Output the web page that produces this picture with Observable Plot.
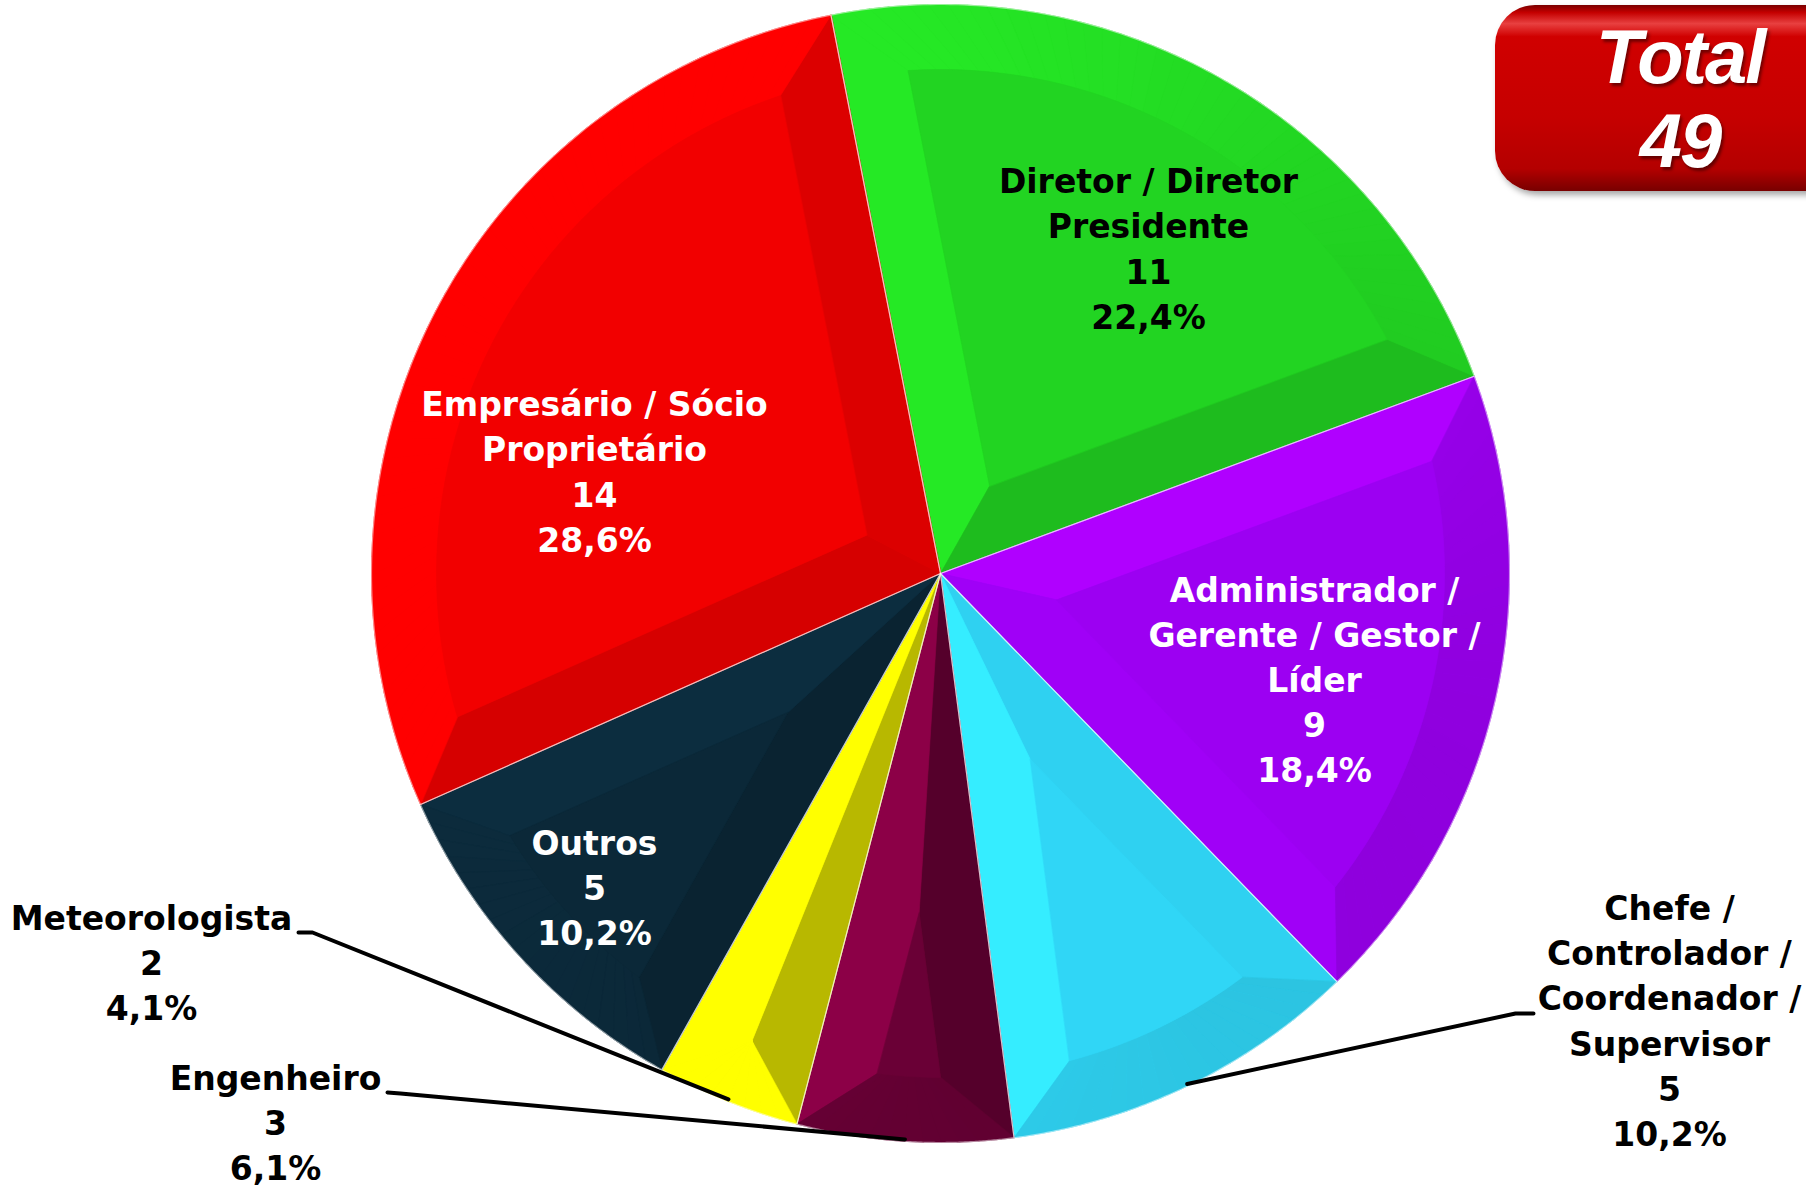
<!DOCTYPE html>
<html><head><meta charset="utf-8">
<script src="https://cdn.jsdelivr.net/npm/d3@7"></script>
<script src="https://cdn.jsdelivr.net/npm/@observablehq/plot@0.6"></script>
<style>
html,body{margin:0;padding:0;background:#fff;}
#wrap{position:relative;width:1806px;height:1196px;overflow:hidden;}
#chart{position:absolute;left:0;top:0;}
#total{position:absolute;left:1495px;top:5px;width:370px;height:186px;border-radius:40px;
  background:linear-gradient(180deg,#7a0000 0%,#c40000 4%,#e84040 10%,#d00000 17%,#c60000 60%,#b40000 88%,#780000 100%);
  box-shadow:3px 4px 6px rgba(0,0,0,0.35);}
#total div{position:absolute;left:0;width:100%;text-align:center;color:#fff;
  font:italic bold 76px "Liberation Sans",Arial,sans-serif;line-height:1;letter-spacing:-2px;
  text-shadow:2px 3px 3px rgba(0,0,0,0.45);}
#t1{top:14px;} #t2{top:98px;}
</style></head>
<body><div id="wrap"><div id="chart"></div><div id="total"><div id="t1"></div><div id="t2"></div></div></div>
<script>
// ---------- data ----------
const categories = [
  "Diretor / Diretor\nPresidente",
  "Administrador /\nGerente / Gestor /\nLíder",
  "Chefe /\nControlador /\nCoordenador /\nSupervisor",
  "Engenheiro",
  "Meteorologista",
  "Outros",
  "Empresário / Sócio\nProprietário"
];
const counts = [11, 9, 5, 3, 2, 5, 14];
const sliceColors = ["#22d422", "#9c00f2", "#30d6f6", "#6a0036", "#f4f400", "#0b2838", "#f20000"];
const labelColors = ["#000", "#fff", "#000", "#000", "#000", "#fff", "#fff"];
const totalTitle = "Total";

// ---------- layout ----------
const W = 1806, H = 1196, CX = 940, CY = 573, R = 569, BEVEL = 65;
const startAngleDeg = -11.1;
const labelOffsets = [[208, -327], [374, 104], [729, 445], [-665, 547], [-789, 387], [-346, 312], [-346, -104]];
const leaderLayout = { 2: [[575, 440], [593, 440]], 3: [[-540, 520], [-553, 519]], 4: [[-628, 359], [-642, 359]] };

// ---------- build ----------
const total = d3.sum(counts);
const fmtPct = v => d3.format(".1f")(v * 100).replace(".", ",") + "%";
const start = startAngleDeg * Math.PI / 180;
const arcs = d3.pie().sort(null).value(d => d).startAngle(start).endAngle(start + 2 * Math.PI)(counts);
const pt = (a, rho) => [CX + rho * Math.sin(a), CY - rho * Math.cos(a)];
const Lraw = [-0.8, -0.6];
const Ln = Math.hypot(...Lraw);
const L = [Lraw[0] / Ln, Lraw[1] / Ln];
const dotL = n => n[0] * L[0] + n[1] * L[1];
function shade(base, s) {
  const c = d3.color(base);
  return (s >= 0 ? c.brighter(s) : c.darker(-s)).formatHex();
}
const facets = [];
arcs.forEach((p, i) => {
  const a0 = p.startAngle, a1 = p.endAngle, mid = (a0 + a1) / 2, half = (a1 - a0) / 2;
  const base = sliceColors[i];
  const r2 = R - BEVEL;
  const d = BEVEL / Math.sin(half);
  const delta = Math.asin(BEVEL / r2);
  const C = [CX, CY];
  const nStart = [-Math.cos(a0), -Math.sin(a0)], nEnd = [Math.cos(a1), Math.sin(a1)];
  const narrow = (a1 - a0) < Math.PI / 6;
  const KE = narrow ? 0.85 : 0.4, KA = narrow ? 0.45 : 0.3, AB = 0.05;
  const degenerate = (a0 + delta >= a1 - delta) || d >= r2;
  const nSeg = Math.max(2, Math.ceil((a1 - a0) / (Math.PI / 90)));
  facets.push({ coords: [C, ...d3.range(nSeg * 2 + 1).map(k => pt(a0 + (a1 - a0) * k / (nSeg * 2), R)), C], color: base });
  if (!degenerate) {
    const apex = pt(mid, d);
    const i0 = a0 + delta, i1 = a1 - delta;
    const Ai = pt(i0, r2), Bi = pt(i1, r2);
    facets.push({ coords: [C, pt(a0, R), Ai, apex, C], color: shade(base, KE * dotL(nStart)) });
    facets.push({ coords: [C, apex, Bi, pt(a1, R), C], color: shade(base, KE * dotL(nEnd)) });
    for (let k = 0; k < nSeg; k++) {
      const o0 = a0 + (a1 - a0) * k / nSeg, o1 = a0 + (a1 - a0) * (k + 1) / nSeg;
      const q0 = i0 + (i1 - i0) * k / nSeg, q1 = i0 + (i1 - i0) * (k + 1) / nSeg;
      const m = (o0 + o1) / 2;
      const s = KA * dotL([Math.sin(m), -Math.cos(m)]) + AB;
      const pts = [pt(o0, R), pt(o1, R), pt(q1, r2), pt(q0, r2)];
      facets.push({ coords: [...pts, pts[0]], color: shade(base, s) });
    }
    const inner = d3.range(nSeg + 1).map(k => pt(i0 + (i1 - i0) * k / nSeg, r2));
    facets.push({ coords: [apex, ...inner, apex], color: base });
  } else {
    const Q = pt(mid, (Math.min(d, r2) + r2) / 2);
    facets.push({ coords: [C, pt(a0, R), Q, C], color: shade(base, KE * dotL(nStart)) });
    facets.push({ coords: [C, Q, pt(a1, R), C], color: shade(base, KE * dotL(nEnd)) });
    for (let k = 0; k < nSeg; k++) {
      const o0 = a0 + (a1 - a0) * k / nSeg, o1 = a0 + (a1 - a0) * (k + 1) / nSeg;
      const m = (o0 + o1) / 2;
      const s = KA * dotL([Math.sin(m), -Math.cos(m)]) + AB + 0.25;
      facets.push({ coords: [pt(o0, R), pt(o1, R), Q, pt(o0, R)], color: shade(base, s) });
    }
  }
});

const labels = arcs.map((p, i) => ({
  x: CX + labelOffsets[i][0], y: CY + labelOffsets[i][1],
  text: categories[i] + "\n" + counts[i] + "\n" + fmtPct(counts[i] / total),
  color: labelColors[i]
}));

const leaders = [];
Object.entries(leaderLayout).forEach(([k, [knee, end]]) => {
  const p = arcs[+k];
  const mid = (p.startAngle + p.endAngle) / 2;
  const a = pt(mid, R - 2);
  leaders.push({ id: k, x: a[0], y: a[1] });
  leaders.push({ id: k, x: CX + knee[0], y: CY + knee[1] });
  leaders.push({ id: k, x: CX + end[0], y: CY + end[1] });
});

const chart = Plot.plot({
  width: W, height: H,
  margin: 0,
  projection: d3.geoIdentity(),
  color: { type: "identity" },
  marks: [
    Plot.geo(facets, {
      geometry: d => ({ type: "Polygon", coordinates: [d.coords] }),
      fill: d => d.color, stroke: d => d.color, strokeWidth: 0.6
    }),
    Plot.geo(arcs, {
      geometry: p => ({ type: "Polygon", coordinates: [[[CX, CY], ...d3.range(121).map(k => pt(p.startAngle + (p.endAngle - p.startAngle) * k / 120, R)), [CX, CY]]] }),
      fill: "none", stroke: "#ffffff", strokeOpacity: 0.5, strokeWidth: 1.2
    }),
    Plot.line(leaders, { x: "x", y: "y", z: "id", stroke: "#000", strokeWidth: 4, curve: "linear" }),
    Plot.text(labels, {
      x: "x", y: "y", text: "text", fill: "color",
      fontFamily: "DejaVu Sans, Verdana, sans-serif", fontWeight: "bold", fontSize: 33,
      lineHeight: 1.37, textAnchor: "middle", lineAnchor: "middle"
    })
  ]
});
document.getElementById("chart").appendChild(chart);
document.getElementById("t1").textContent = totalTitle;
document.getElementById("t2").textContent = String(total);
</script>
</body></html>
